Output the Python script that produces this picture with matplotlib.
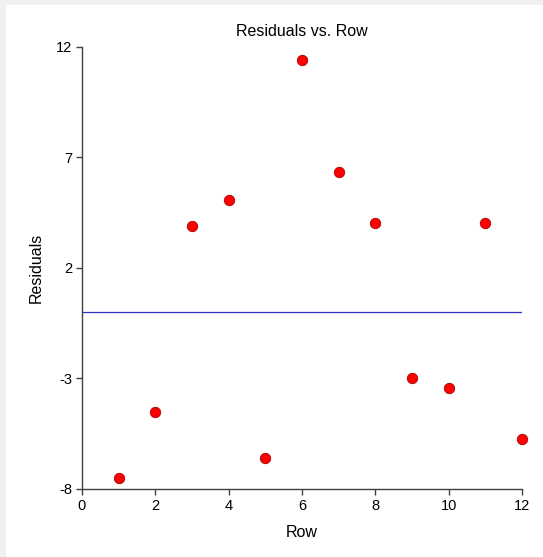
import numpy as np
import matplotlib.pyplot as plt
from matplotlib.patches import Rectangle

plt.rcParams['font.family'] = ['Liberation Sans', 'DejaVu Sans']
plt.rcParams['axes.unicode_minus'] = False

# residuals
rows = np.arange(1, 13)
residuals = [-7.49, -4.51, 3.89, 5.05, -6.59, 11.40, 6.34, 4.03, -2.96, -3.44, 4.03, -5.72]
xticks = [0, 2, 4, 6, 8, 10, 12]
yticks = [-8, -3, 2, 7, 12]

fig = plt.figure(figsize=(5.43, 5.57), dpi=100, facecolor='#f0f0f0')
# white panel, gray strip on left and top
fig.patches.append(Rectangle((6 / 543, 0), 1, 1 - 5 / 557, transform=fig.transFigure,
                             facecolor='white', edgecolor='none', zorder=-1))

ax = fig.add_axes([0.151, 0.1221, 0.8103, 0.7941])
ax.set_facecolor('white')

ax.axhline(0, color='#3030c0', lw=0.9, zorder=1)
ax.plot(rows, residuals, 'o', ms=7.5, mfc='#ff0000', mec='#a00000', mew=0.6,
        clip_on=False, zorder=3)

ax.set_xlim(0, 12)
ax.set_ylim(-8, 12)
ax.set_xticks(xticks)
ax.set_yticks(yticks)

for s in ['top', 'right']:
    ax.spines[s].set_visible(False)
for s in ['left', 'bottom']:
    ax.spines[s].set_color('#404040')
    ax.spines[s].set_linewidth(1.0)
ax.tick_params(direction='out', length=4, width=1, color='#404040',
               labelsize=10.5, pad=3)

ax.set_title('Residuals vs. Row', fontsize=11.5, pad=8)
ax.set_xlabel('Row', fontsize=11.5, labelpad=9)
ax.set_ylabel('Residuals', fontsize=11.5, labelpad=9)

fig.savefig('out.png', dpi=100, facecolor=fig.get_facecolor())
